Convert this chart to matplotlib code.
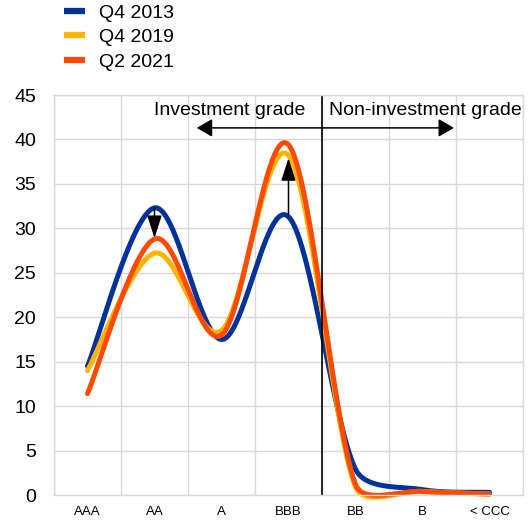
import numpy as np
import matplotlib
matplotlib.use("Agg")
import matplotlib.pyplot as plt
from matplotlib.lines import Line2D

plt.rcParams['font.family'] = ['Liberation Sans', 'DejaVu Sans']

ratings = ["AAA", "AA", "A", "BBB", "BB", "B", "< CCC"]
q4_2013 = [14.5, 32.3, 17.5, 31.3, 2.9, 0.6, 0.3]
q4_2019 = [14.0, 27.2, 18.5, 38.2, 0.9, 0.4, 0.1]
q2_2021 = [11.4, 28.8, 18.0, 39.4, 1.2, 0.4, 0.1]

series = [("Q4 2013", q4_2013, "#003299"),
          ("Q4 2019", q4_2019, "#FFB400"),
          ("Q2 2021", q2_2021, "#FF4B00")]

# pixel scale of one x step / one y unit, used for the curve smoothing
SX, SY = 67.0, 8.89


def smooth(xs, ys, n=60):
    # bezier smoothing like spreadsheet "smoothed line"
    P = np.column_stack([np.asarray(xs, float) * SX, np.asarray(ys, float) * SY])
    out = []
    f = 1 / 6
    for i in range(len(P) - 1):
        p1, p2 = P[i], P[i + 1]
        p0 = P[i - 1] if i > 0 else p1
        p3 = P[i + 2] if i + 2 < len(P) else p2
        d12 = np.linalg.norm(p2 - p1)
        d02 = np.linalg.norm(p2 - p0)
        d13 = np.linalg.norm(p3 - p1)
        cap = d12 / 3
        f1 = f if d02 * f <= cap else cap / d02
        f2 = f if d13 * f <= cap else cap / d13
        c1 = p1 + f1 * (p2 - p0)
        c2 = p2 - f2 * (p3 - p1)
        t = np.linspace(0, 1, n)[:, None]
        seg = ((1 - t) ** 3) * p1 + 3 * ((1 - t) ** 2) * t * c1 + 3 * (1 - t) * t ** 2 * c2 + t ** 3 * p2
        out.append(seg if i == 0 else seg[1:])
    pts = np.vstack(out)
    return pts[:, 0] / SX, pts[:, 1] / SY


fig = plt.figure(figsize=(5.29, 5.20), dpi=100)
ax = fig.add_axes([54 / 529, 1 - 495 / 520, 469 / 529, 400 / 520])

x = np.arange(len(ratings))
for name, vals, col in series:
    sx, sy = smooth(x, vals)
    ax.plot(sx, sy, color=col, lw=3.6, solid_capstyle='round', label=name,
            clip_on=False)

ax.set_xlim(-0.5, 6.5)
ax.set_ylim(0, 45)
ax.set_yticks(range(0, 46, 5))
ax.set_xticks(x)
ax.set_xticklabels(ratings, fontsize=9.5)
ax.set_xticks(np.arange(-0.5, 7, 1), minor=True)
ax.tick_params(axis='both', which='both', length=0)
ax.tick_params(axis='y', labelsize=14, pad=13)
ax.tick_params(axis='x', pad=8)
ax.grid(True, which='minor', axis='x', color='#d9d9d9', lw=1)
ax.grid(True, which='major', axis='y', color='#d9d9d9', lw=1)
ax.set_axisbelow(True)
for s in ax.spines.values():
    s.set_color('#d9d9d9')
    s.set_linewidth(1)

ax.axvline(3.5, color='black', lw=1.2)

# arrows showing the shift
head = "-|>,head_length=1.4,head_width=0.45"
ax.annotate("", xy=(1, 28.9), xytext=(1, 32.3),
            arrowprops=dict(arrowstyle=head, color='black', lw=1.1,
                            shrinkA=0, shrinkB=0, mutation_scale=10))
ax.annotate("", xy=(3, 37.9), xytext=(3, 31.6),
            arrowprops=dict(arrowstyle=head, color='black', lw=1.1,
                            shrinkA=0, shrinkB=0, mutation_scale=10))
ax.annotate("", xy=(1.63, 41.3), xytext=(5.47, 41.3),
            arrowprops=dict(arrowstyle="<|-|>,head_length=0.95,head_width=0.55",
                            color='black', lw=1.1, shrinkA=0, shrinkB=0,
                            mutation_scale=10), annotation_clip=False)

ax.text(3.25, 43.3, "Investment grade", ha='right', va='center', fontsize=14)
ax.text(3.6, 43.3, "Non-investment grade", ha='left', va='center', fontsize=14,
        clip_on=False)

handles = [Line2D([], [], color=c, lw=4.5, solid_capstyle='butt') for _, _, c in series]
fig.legend(handles, [n for n, _, _ in series], loc='upper left',
           bbox_to_anchor=(64 / 529, 1 - 4 / 520), frameon=False, fontsize=14,
           borderpad=0, borderaxespad=0, handlelength=1.1, handletextpad=0.7,
           labelspacing=0.36)

fig.savefig("out.png", dpi=100)
